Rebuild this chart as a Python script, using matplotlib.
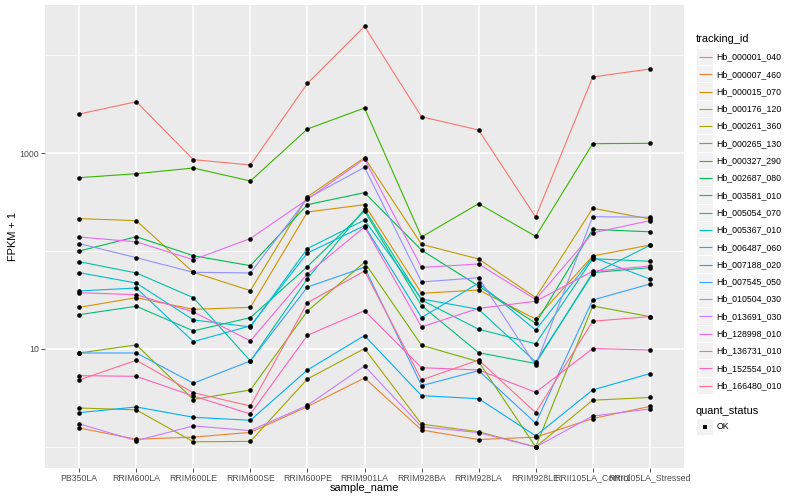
import matplotlib
matplotlib.use("Agg")
import matplotlib.pyplot as plt
from matplotlib.patches import Rectangle
import numpy as np

plt.rcParams['font.family'] = ['Liberation Sans', 'DejaVu Sans']

samples = ["PB350LA", "RRIM600LA", "RRIM600LE", "RRIM600SE", "RRIM600PE", "RRIM901LA",
           "RRIM928BA", "RRIM928LA", "RRIM928LE", "RRII105LA_Control", "RRII105LA_Stressed"]

ids = ["Hb_000001_040", "Hb_000007_460", "Hb_000015_070", "Hb_000176_120", "Hb_000261_360",
       "Hb_000265_130", "Hb_000327_290", "Hb_002687_080", "Hb_003581_010", "Hb_005054_070",
       "Hb_005367_010", "Hb_006487_060", "Hb_007188_020", "Hb_007545_050", "Hb_010504_030",
       "Hb_013691_030", "Hb_128998_010", "Hb_136731_010", "Hb_152554_010", "Hb_166480_010"]

colors = ["#F8766D", "#EA8331", "#D89000", "#C09B00", "#A3A500", "#7CAE00", "#39B600", "#00BB4E",
          "#00BF7D", "#00C1A3", "#00BFC4", "#00BAE0", "#00B0F6", "#35A2FF", "#9590FF", "#C77CFF",
          "#E76BF3", "#FA62DB", "#FF62BC", "#FF6C91"]

# FPKM + 1 per sample (order of `samples`)
hb_000001_040 = [2500, 3340, 855, 755, 5140, 19600, 2345, 1718, 222, 5970, 7200]
hb_000007_460 = [1.56, 1.20, 1.26, 1.41, 2.58, 5.06, 1.49, 1.19, 1.26, 1.95, 2.59]
hb_000015_070 = [26.6, 33.4, 25.4, 26.6, 250, 297, 37.0, 40.0, 20.2, 88.9, 115]
hb_000176_120 = [214, 204, 60.6, 39.4, 358, 896, 117, 82.9, 33.5, 273, 212]
hb_000261_360 = [2.50, 2.39, 1.13, 1.14, 4.94, 10.1, 1.71, 1.43, 1.0, 3.00, 3.20]
hb_000265_130 = [9.10, 11.0, 3.05, 3.82, 24.4, 76.7, 10.9, 7.42, 1.0, 27.5, 21.4]
hb_000327_290 = [560, 615, 703, 518, 1758, 2878, 139, 304, 141, 1245, 1256]
hb_002687_080 = [100, 140, 89.5, 70.8, 297, 394, 102, 43.9, 18.3, 166, 157]
hb_003581_010 = [22.4, 27.3, 15.3, 20.9, 69.2, 256, 27.7, 9.17, 7.11, 60.1, 67.6]
hb_005054_070 = [77.8, 59.7, 33.4, 7.55, 52.2, 268, 31.6, 15.9, 11.3, 83.4, 78.5]
hb_005367_010 = [60.1, 47.1, 19.8, 16.8, 106, 207, 32.4, 25.4, 7.37, 58.3, 114]
hb_006487_060 = [39.1, 41.9, 11.9, 17.2, 95.4, 181, 20.9, 47.1, 15.6, 86.2, 51.8]
hb_007188_020 = [2.24, 2.56, 2.01, 1.87, 6.11, 13.7, 3.34, 3.11, 1.30, 3.82, 5.60]
hb_007545_050 = [9.10, 9.10, 4.47, 7.55, 42.9, 68.2, 4.22, 6.01, 1.75, 31.6, 46.0]
hb_010504_030 = [119, 85.5, 60.6, 59.7, 345, 715, 48.3, 53.4, 6.79, 224, 221]
hb_013691_030 = [1.72, 1.16, 1.64, 1.47, 2.66, 6.71, 1.61, 1.40, 1.0, 2.07, 2.44]
hb_128998_010 = [139, 124, 81.5, 134, 337, 869, 67.9, 73.7, 32.0, 153, 204]
hb_136731_010 = [37.5, 35.8, 23.9, 12.1, 58.3, 176, 16.8, 26.0, 30.7, 62.1, 70.3]
hb_152554_010 = [5.34, 5.26, 3.31, 2.17, 13.8, 24.6, 6.44, 6.11, 3.61, 10.1, 9.77]
hb_166480_010 = [4.83, 7.67, 3.58, 2.62, 29.7, 62.5, 4.83, 7.72, 2.24, 19.2, 21.4]

series = [hb_000001_040, hb_000007_460, hb_000015_070, hb_000176_120, hb_000261_360,
          hb_000265_130, hb_000327_290, hb_002687_080, hb_003581_010, hb_005054_070,
          hb_005367_010, hb_006487_060, hb_007188_020, hb_007545_050, hb_010504_030,
          hb_013691_030, hb_128998_010, hb_136731_010, hb_152554_010, hb_166480_010]

W, H = 800, 500
fig = plt.figure(figsize=(8, 5), dpi=100)
L, R, T, B = 45, 684, 5, 468
ax = fig.add_axes([L / W, 1 - B / H, (R - L) / W, (B - T) / H])
ax.set_facecolor("#EBEBEB")
for s in ax.spines.values():
    s.set_visible(False)

x = np.arange(len(samples))
for vals, col in zip(series, colors):
    ax.plot(x, vals, color=col, lw=0.8, zorder=3, solid_capstyle='butt')
for vals in series:
    ax.plot(x, vals, linestyle='none', marker='o', ms=3.3, color='black', zorder=5,
            markeredgewidth=0)

ax.set_yscale('log')
ax.set_ylim(0.61, 32400)
ax.set_xlim(-0.6, len(samples) - 1 + 0.6)
ax.set_yticks([10, 1000])
ax.set_yticklabels(["10", "1000"])
ax.set_yticks([1, 100, 10000], minor=True)
ax.yaxis.set_minor_formatter(matplotlib.ticker.NullFormatter())
ax.set_xticks(x)
ax.set_xticklabels(samples)
ax.tick_params(axis='both', which='major', length=2.6, width=0.6, color='#333333',
               labelsize=6.3, labelcolor='#4D4D4D', pad=1.5)
ax.tick_params(axis='y', which='minor', length=0)
ax.grid(True, which='major', color='white', lw=1.1, zorder=0)
ax.grid(True, which='minor', axis='y', color='white', lw=0.55, zorder=0)
ax.set_axisbelow(True)

fig.text(13 / W, 1 - 236.5 / H, "FPKM + 1", rotation=90, ha='center', va='center',
         fontsize=7.9, color='black')
fig.text((L + R) / 2 / W, 1 - 488 / H, "sample_name", ha='center', va='center',
         fontsize=7.9, color='black')

# legend drawn on an overlay axes in pixel coordinates
lax = fig.add_axes([0, 0, 1, 1], zorder=10)
lax.set_xlim(0, W)
lax.set_ylim(H, 0)
lax.axis('off')
lax.patch.set_alpha(0)

lax.text(696, 39, "tracking_id", ha='left', va='center', fontsize=7.9)
key = 17.3
y0 = 48.3
for i, (name, col) in enumerate(zip(ids, colors)):
    top = y0 + i * key
    lax.add_patch(Rectangle((696.5, top + 0.5), key - 1, key - 1, facecolor='#F2F2F2',
                            edgecolor='none', zorder=1))
    cy = top + key / 2
    lax.plot([698.5, 711.5], [cy, cy], color=col, lw=0.8, zorder=2, solid_capstyle='butt')
    lax.text(716.5, cy, name, ha='left', va='center', fontsize=6.3, color='black')

lax.text(696, 411.5, "quant_status", ha='left', va='center', fontsize=7.9)
top = 418
lax.add_patch(Rectangle((696.5, top + 0.5), key - 1, key - 1, facecolor='#F2F2F2',
                        edgecolor='none', zorder=1))
cy = top + key / 2
lax.plot([705], [cy], marker='s', ms=2.8, color='black', markeredgewidth=0,
         linestyle='none', zorder=2)
lax.text(716.5, cy, "OK", ha='left', va='center', fontsize=6.3, color='black')

fig.savefig("out.png", dpi=100, facecolor='white')
